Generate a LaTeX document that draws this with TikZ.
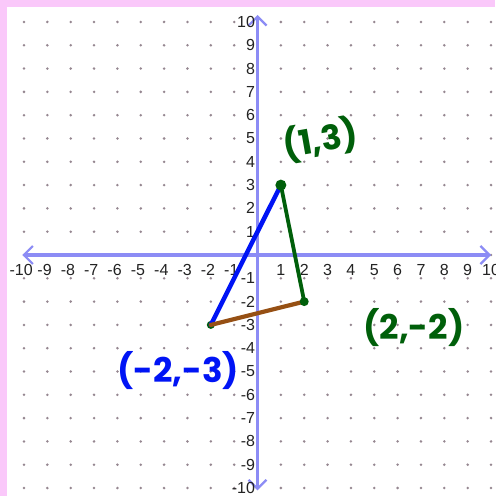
\documentclass[tikz,border=0pt]{standalone}
\usepackage{fontspec}
\setmainfont{Liberation Sans}
\newfontfamily\handfont{Poppins}
\usetikzlibrary{arrows.meta}
\definecolor{pinkedge}{RGB}{250,200,250}
\definecolor{axiscol}{RGB}{140,140,245}
\definecolor{dotcol}{RGB}{150,135,145}
\definecolor{ticklab}{RGB}{35,35,35}
\definecolor{pengreen}{RGB}{0,95,10}
\definecolor{penblue}{RGB}{0,20,245}
\definecolor{penbrown}{RGB}{150,80,20}
\tikzset{
  griddot/.style={fill=dotcol,draw=none},
  axisline/.style={draw=axiscol,line width=3.2pt,-{Straight Barb[length=9pt,width=18pt,line width=2.2pt]}},
  xlab/.style={font=\fontsize{16}{16}\selectfont,text=ticklab,inner sep=0pt},
  ylab/.style={font=\fontsize{16}{16}\selectfont,text=ticklab,inner sep=0pt,anchor=east},
  handlab/.style={font=\handfont\bfseries\fontsize{34}{34}\selectfont,inner sep=0pt},
  vert/.style={circle,fill=pengreen,inner sep=0pt},
}
\begin{document}
\begin{tikzpicture}[x=23.35pt,y=23.3pt]
\useasboundingbox (-11.028,10.944) rectangle (10.171,-10.343);
\fill[pinkedge] (-11.028,10.944) rectangle (10.171,-10.343);
\fill[white] (-10.728,10.644) rectangle (10.171,-10.343);
% grid dots
\foreach \i in {-10,...,10}{
  \foreach \j in {-10,...,10}{
    \fill[griddot] (\i,\j) circle (1.4pt);
  }
}
% axes
\coordinate (xl) at (-10.07,0);
\coordinate (xr) at (10.0,0);
\coordinate (yt) at (0,10.3);
\coordinate (yb) at (0,-10.1);
\draw[axisline] (0,0) -- (xr);
\draw[axisline] (0,0) -- (xl);
\draw[axisline] (0,0) -- (yt);
\draw[axisline] (0,0) -- (yb);
% tick labels
\foreach \i in {1,...,10}{
  \node[xlab] (xp\i) at (\i,-0.65) {\i};
  \node[xlab] (xn\i) at (-\i-0.12,-0.65) {-\i};
  \node[ylab] (yp\i) at (-0.1,\i) {\i};
  \node[ylab] (yn\i) at (-0.1,-\i) {-\i};
}
% triangle
\node[vert,minimum size=8pt] (C) at (-2,-3) {};
\coordinate (A) at (1,3);
\coordinate (B) at (2,-2);
\coordinate (Cc) at (-2,-3);
\draw[penblue,line width=4.5pt,line cap=round] (A) -- (Cc);
\draw[penbrown,line width=4.2pt,line cap=round] (Cc) -- (B);
\draw[pengreen,line width=3.8pt,line cap=round] (A) -- (B);
\node[vert,minimum size=11pt] (Ad) at (A) {};
\node[vert,minimum size=9pt] (Bd) at (B) {};
% labels
\node[handlab,text=pengreen,rotate=10] (la) at (2.7,4.94) {(1,3)};
\node[handlab,text=pengreen] (lb) at (6.70,-3.13) {(2,-2)};
\node[handlab,text=penblue] (lc) at (-3.40,-4.94) {(-2,-3)};
\end{tikzpicture}
\end{document}
